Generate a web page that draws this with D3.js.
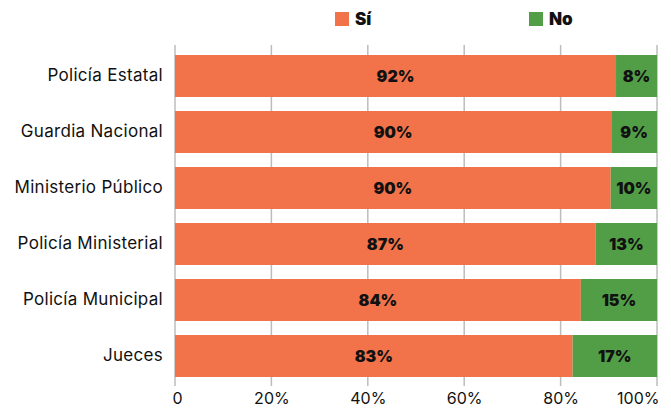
<!DOCTYPE html>
<html><head><meta charset="utf-8">
<script src="https://cdn.jsdelivr.net/npm/d3@7"></script>
<style>body{margin:0;background:#fff}svg{display:block}</style>
</head><body>
<svg id="c" width="671" height="409"></svg>
<script>
const categories = ["Policía Estatal","Guardia Nacional","Ministerio Público","Policía Ministerial","Policía Municipal","Jueces"];
const siValues = [91.5, 90.5, 90.4, 87.3, 84.2, 82.5];
const noValues = [8.5, 9.5, 9.6, 12.7, 15.8, 17.5];
const siLabels = ["92%","90%","90%","87%","84%","83%"];
const noLabels = ["8%","9%","10%","13%","15%","17%"];
const xTicks = [0,20,40,60,80,100];
const xTickLabels = ["0","20%","40%","60%","80%","100%"];
const seriesNames = ["Sí","No"];

const colors = {"Sí":"#F2734A","No":"#529E47"};
const svg = d3.select("#c");
const font = "Inter, 'Open Sans', sans-serif";
const x = d3.scaleLinear().domain([0,100]).range([175,657]);
const y = d3.scaleBand().domain(categories).range([48,384]).paddingInner(0.25).paddingOuter(0.125);

// gridlines
svg.append("g").selectAll("line").data(xTicks).join("line")
  .attr("x1",d=>x(d)).attr("x2",d=>x(d)).attr("y1",45).attr("y2",386)
  .attr("stroke","#bcbcbc").attr("stroke-width",1.5);

const rows = categories.map((c,i)=>({c, si:siValues[i], no:noValues[i], sl:siLabels[i], nl:noLabels[i]}));
const g = svg.append("g");
g.selectAll("rect.si").data(rows).join("rect").attr("class","si")
  .attr("x",x(0)).attr("y",d=>y(d.c)).attr("width",d=>x(d.si)-x(0)).attr("height",y.bandwidth())
  .attr("fill",colors["Sí"]);
g.selectAll("rect.no").data(rows).join("rect").attr("class","no")
  .attr("x",d=>x(d.si)).attr("y",d=>y(d.c)).attr("width",d=>x(d.si+d.no)-x(d.si)).attr("height",y.bandwidth())
  .attr("fill",colors["No"]);
g.selectAll("text.sl").data(rows).join("text").attr("class","sl")
  .attr("x",d=>x(d.si/2)).attr("y",d=>y(d.c)+y.bandwidth()/2).attr("dy","0.36em")
  .attr("text-anchor","middle").attr("font-family",font).attr("font-weight",900).attr("font-size",16)
  .attr("fill","#111").text(d=>d.sl);
g.selectAll("text.nl").data(rows).join("text").attr("class","nl")
  .attr("x",d=>x(d.si+d.no/2)).attr("y",d=>y(d.c)+y.bandwidth()/2).attr("dy","0.36em")
  .attr("text-anchor","middle").attr("font-family",font).attr("font-weight",900).attr("font-size",16)
  .attr("fill","#111").text(d=>d.nl);

// category axis
const ya = svg.append("g").attr("transform","translate(163,0)")
  .call(d3.axisLeft(y).tickSize(0).tickPadding(0));
ya.select(".domain").remove();
ya.selectAll("text").attr("font-family",font).attr("font-size",17).attr("letter-spacing","0.3px").attr("fill","#111");

// x axis
const xa = svg.append("g").attr("transform","translate(0,386)")
  .call(d3.axisBottom(x).tickValues(xTicks).tickFormat((d,i)=>xTickLabels[i]).tickSize(0).tickPadding(7));
xa.select(".domain").remove();
xa.selectAll("text").attr("font-family",font).attr("font-size",16).attr("fill","#111");
xa.selectAll(".tick").filter(d=>d===100).select("text").attr("text-anchor","end").attr("x",2);
xa.selectAll(".tick").filter(d=>d===0).select("text").attr("x",2);

// legend
const legendX = [335, 529];
const lg = svg.append("g").selectAll("g").data(seriesNames).join("g")
  .attr("transform",(d,i)=>`translate(${legendX[i]},12)`);
lg.append("rect").attr("width",14).attr("height",14).attr("fill",d=>colors[d]);
lg.append("text").attr("x",20).attr("y",7).attr("dy","0.36em")
  .attr("font-family",font).attr("font-weight",900).attr("font-size",17).attr("fill","#111").text(d=>d);
</script>
</body></html>
